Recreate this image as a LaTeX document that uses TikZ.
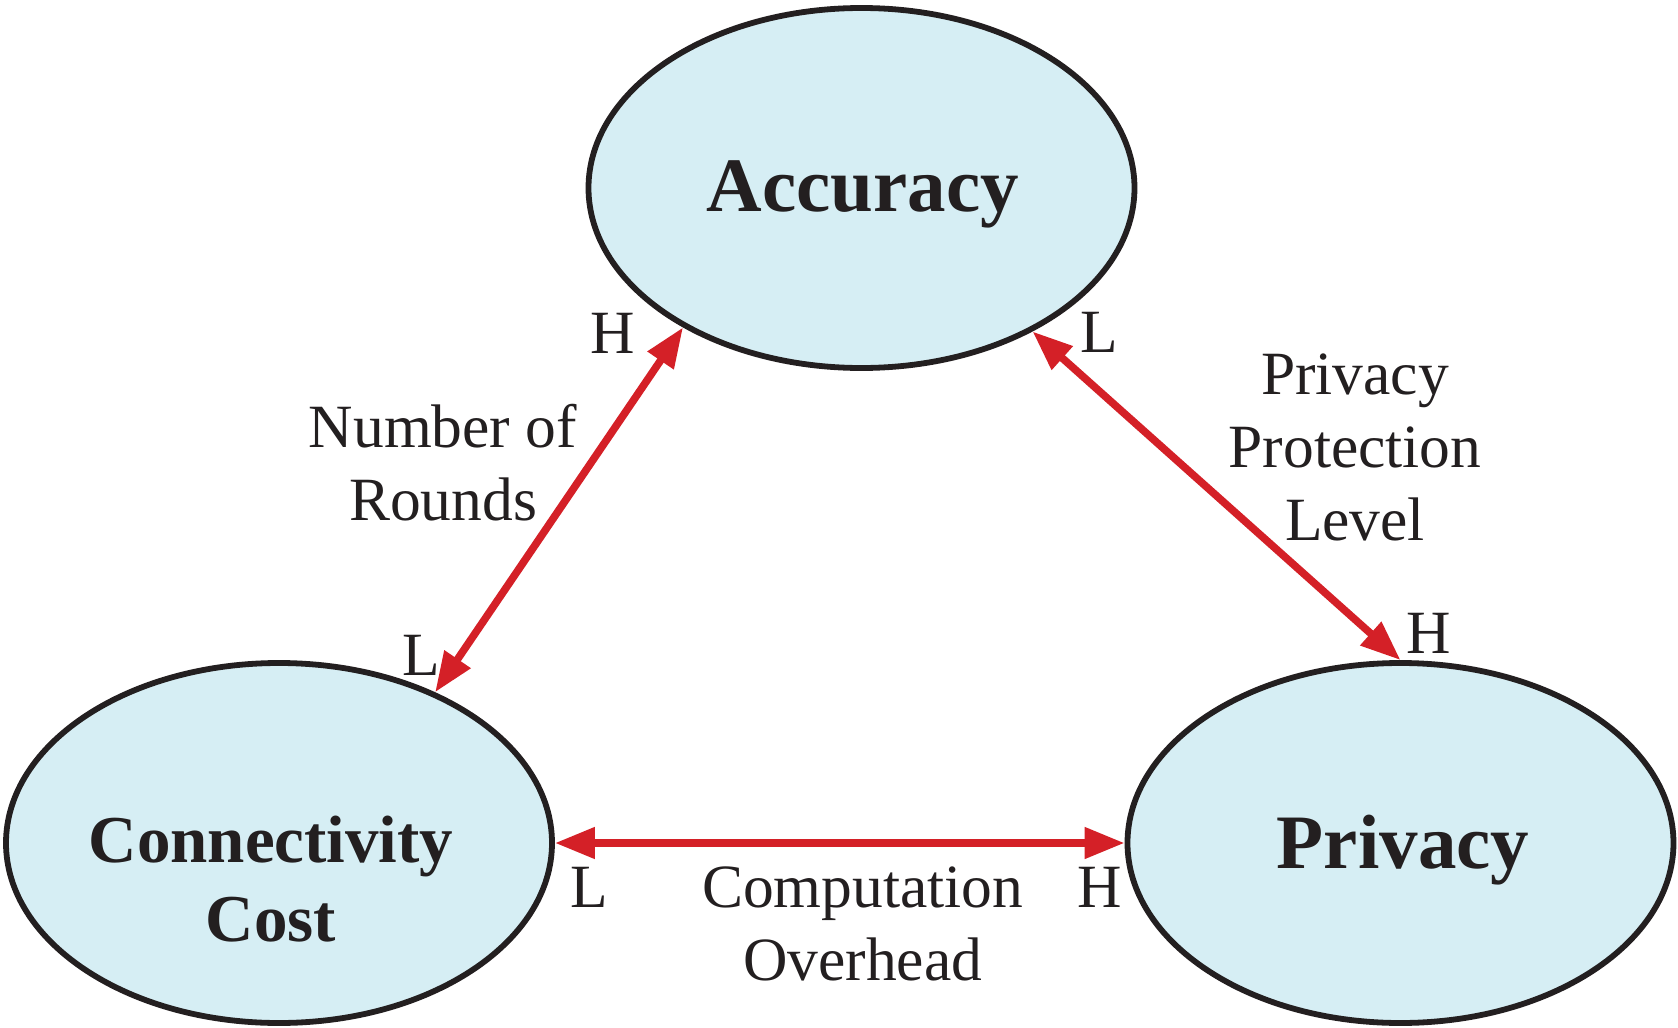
\documentclass[tikz,border=0pt]{standalone}
\usepackage{fontspec}
\setmainfont{Liberation Serif}
\usetikzlibrary{shapes.geometric,arrows.meta}
\definecolor{fillblue}{RGB}{214,238,244}
\definecolor{inkdark}{RGB}{35,31,32}
\definecolor{arrowred}{RGB}{212,32,39}
\begin{document}
\begin{tikzpicture}[x=0.5pt,y=-0.5pt,
  bubble/.style={ellipse, draw=inkdark, fill=fillblue, line width=2.9pt,
    minimum width=273pt, minimum height=180pt, inner sep=0pt},
  title/.style={anchor=base, inner sep=0pt, text=inkdark,
    font=\fontsize{38.5pt}{46pt}\selectfont\bfseries, align=center},
  subtitle/.style={title, font=\fontsize{33.5pt}{39.5pt}\selectfont\bfseries},
  note/.style={anchor=base, inner sep=0pt, text=inkdark,
    font=\fontsize{30.75pt}{36.5pt}\selectfont, align=center},
  link/.style={draw=arrowred, line width=3.8pt,
    {Triangle[length=20pt,width=15pt]}-{Triangle[length=20pt,width=15pt]}}
]
\useasboundingbox (0,0) rectangle (1678,1028);

% ellipses
\node[bubble] (acc) at (861.5,188) {};
\node[bubble] (con) at (279,843) {};
\node[bubble] (pri) at (1400.5,843) {};

% connectors
\draw[link] (acc.218.5) -- (con.44.5);
\draw[link] (acc.320) -- (pri.north);
\draw[link] (con.east) -- (pri.west);

% ellipse texts (base = baseline of last line)
\node[title] (acctext) at (863,211.7) {Accuracy};
\node[subtitle] (context) at (271,941.7) {Connectivity\\Cost};
\node[title] (pritext) at (1403,868) {Privacy};

% connector labels
\node[note] (rounds) at (443,520.5) {Number of\\Rounds};
\node[note] (protect) at (1355,540.5) {Privacy\\Protection\\Level};
\node[note] (overhead) at (862.6,980) {Computation\\Overhead};

% H / L labels
\node[note] (accH) at (612.5,353) {H};
\node[note] (accL) at (1099,352) {L};
\node[note] (conL) at (421,675) {L};
\node[note] (priH) at (1428.5,653) {H};
\node[note] (conL2) at (589,907.5) {L};
\node[note] (priH2) at (1100,907.5) {H};
\end{tikzpicture}
\end{document}
